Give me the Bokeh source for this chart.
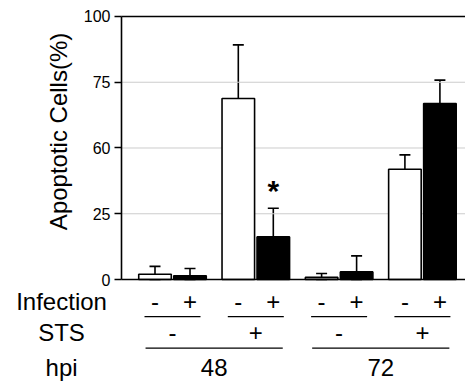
import math
from bokeh.plotting import figure
from bokeh.models import Range1d, FixedTicker, ColumnDataSource, Whisker, Label, TeeHead
from bokeh.core.properties import value
from bokeh.embed import file_html
from bokeh.resources import INLINE

# ---- data ----
hpi_labels = ["48", "72"]
sts_labels = ["-", "+", "-", "+"]
infection_labels = ["-", "+", "-", "+", "-", "+", "-", "+"]
values = [2.0, 1.4, 68.8, 16.2, 0.8, 2.9, 41.9, 66.9]
errors = [3.0, 2.8, 20.4, 10.9, 1.5, 6.1, 5.5, 8.9]
y_ticks = [0, 25, 50, 75, 100]
y_tick_labels = {0: "0", 25: "25", 50: "60", 75: "75", 100: "100"}
grid_ticks = [25, 50, 75]
significant = [False, False, False, True, False, False, False, False]

FONT = "Liberation Sans"
PAIR_STEP = 2.38
BAR_W = 0.93
AXIS_X = -0.957
X_END = 8.871

xs = [(k // 2) * PAIR_STEP + (k % 2) for k in range(len(values))]
colors = ["white" if s == "-" else "black" for s in infection_labels]
upper = [v + e for v, e in zip(values, errors)]
lower = [max(0.0, v - e) for v, e in zip(values, errors)]

p = figure(width=465, height=383, output_backend="svg", toolbar_location=None,
           x_axis_location=None, y_axis_location="left",
           x_range=Range1d(-4.414, X_END), y_range=Range1d(-39.54, 106.08))
p.min_border_left = 0
p.min_border_right = 0
p.min_border_top = 0
p.min_border_bottom = 0
p.outline_line_color = None
p.background_fill_color = "white"
p.border_fill_color = "white"
p.xgrid.visible = False
p.ygrid.visible = False

# y axis drawn at a fixed location inside the frame
ax = p.yaxis[0]
ax.fixed_location = AXIS_X
ax.ticker = FixedTicker(ticks=y_ticks)
ax.major_label_overrides = {k: v for k, v in y_tick_labels.items()}
ax.bounds = (min(y_ticks), max(y_ticks))
ax.axis_line_width = 1.6
ax.axis_line_color = "black"
ax.major_tick_line_color = "black"
ax.major_tick_line_width = 1.6
ax.major_tick_out = 7
ax.major_tick_in = 0
ax.minor_tick_line_color = None
ax.major_label_text_font = FONT
ax.major_label_text_font_size = "16px"
ax.major_label_text_color = "black"
ax.major_label_standoff = 4

# grid lines (from the axis to the right edge)
p.segment(x0=[AXIS_X] * len(grid_ticks), x1=[X_END] * len(grid_ticks),
          y0=grid_ticks, y1=grid_ticks, line_color="#cccccc", line_width=1)

# bars
src = ColumnDataSource(dict(x=xs, top=values, color=colors, upper=upper, lower=lower))
p.vbar(x="x", top="top", bottom=0, width=BAR_W, source=src,
       fill_color="color", line_color="black", line_width=1.6)

# top frame line and baseline
frame_y = [min(y_ticks), max(y_ticks)]
p.segment(x0=[AXIS_X] * 2, x1=[X_END] * 2, y0=frame_y, y1=frame_y,
          line_color="black", line_width=1.6)

wh = Whisker(base="x", upper="upper", lower="lower", source=src,
             line_color="black", line_width=1.6,
             upper_head=TeeHead(size=11, line_color="black", line_width=1.6),
             lower_head=TeeHead(size=11, line_color="black", line_width=1.6))
p.add_layout(wh)

for k, sig in enumerate(significant):
    if sig:
        p.add_layout(Label(x=xs[k], y=upper[k] + 6.9, text="*", text_align="center",
                           text_baseline="alphabetic", text_font=FONT,
                           text_font_size="30px", text_font_style="bold", text_color="black"))

# annotation rows under the chart
ROW_INF = -8.3
ROW_STS = -20.3
ROW_HPI = -33.3
LINE1 = -14.1
LINE2 = -26.1
ROW_LABEL_X = -2.67
FS = "24px"

p.text(x=xs, y=[ROW_INF] * len(xs), text=infection_labels, text_align="center",
       text_baseline="alphabetic", text_font=value(FONT), text_font_size=FS, text_color="black")

pair_centers = [j * PAIR_STEP + 0.5 for j in range(len(sts_labels))]
p.text(x=pair_centers, y=[ROW_STS] * len(pair_centers), text=sts_labels, text_align="center",
       text_baseline="alphabetic", text_font=value(FONT), text_font_size=FS, text_color="black")
p.segment(x0=[c - 0.8 for c in pair_centers], x1=[c + 0.8 for c in pair_centers],
          y0=[LINE1] * len(pair_centers), y1=[LINE1] * len(pair_centers),
          line_color="black", line_width=1.4)

group_centers = [(pair_centers[2 * g] + pair_centers[2 * g + 1]) / 2 for g in range(len(hpi_labels))]
p.text(x=group_centers, y=[ROW_HPI] * len(group_centers), text=hpi_labels, text_align="center",
       text_baseline="alphabetic", text_font=value(FONT), text_font_size=FS, text_color="black")
p.segment(x0=[c - 1.96 for c in group_centers], x1=[c + 1.96 for c in group_centers],
          y0=[LINE2] * len(group_centers), y1=[LINE2] * len(group_centers),
          line_color="black", line_width=1.4)

p.text(x=[ROW_LABEL_X] * 3, y=[ROW_INF, ROW_STS, ROW_HPI], text=["Infection", "STS", "hpi"],
       text_align="center", text_baseline="alphabetic", text_font=value(FONT),
       text_font_size=FS, text_color="black")

p.add_layout(Label(x=-2.757, y=56.3, text="Apoptotic Cells(%)", angle=math.pi / 2,
                   text_align="center", text_baseline="middle", text_font=FONT,
                   text_font_size="24px", text_color="black"))

open("out.html", "w").write(file_html(p, INLINE))
